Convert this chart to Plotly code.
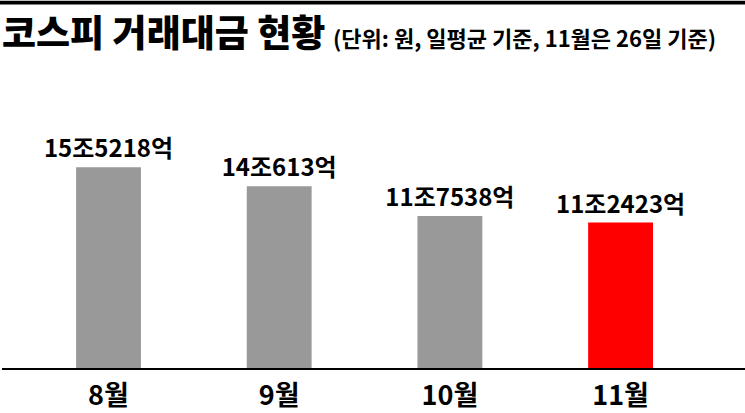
import plotly.graph_objects as go

# 코스피 일평균 거래대금 (단위: 억원)
months = ["8월", "9월", "10월", "11월"]
amounts = [155218, 140613, 117538, 112423]
bar_colors = ["#999999", "#999999", "#999999", "#ff0000"]

FONT = "Noto Sans CJK KR"

y_jo = [a / 10000 for a in amounts]
labels = [f"{a // 10000}조{a % 10000}억" for a in amounts]

fig = go.Figure()
fig.add_trace(go.Bar(
    x=months, y=y_jo,
    width=0.38,
    marker=dict(color=bar_colors, line=dict(width=0)),
    text=labels,
    textposition="outside",
    constraintext="none",
    textfont=dict(family=FONT, size=24, color="black", weight=700),
    cliponaxis=False,
    hoverinfo="skip",
))

# plot area: pixels 80..374 vertically
def py(pix):
    return (374 - pix) / 294

fig.add_annotation(
    text="코스피 거래대금 현황", xref="paper", yref="paper",
    x=-0.003, y=py(30), xanchor="left", yanchor="middle", showarrow=False,
    font=dict(family=FONT, size=37, color="black", weight=900),
)
fig.add_annotation(
    text="(단위: 원, 일평균 기준, 11월은 26일 기준)", xref="paper", yref="paper",
    x=(331 - 2) / 743, y=py(36), xanchor="left", yanchor="middle", showarrow=False,
    font=dict(family=FONT, size=22, color="black", weight=700),
)
# top black rule
fig.add_shape(type="rect", xref="paper", yref="paper",
              x0=-0.01, x1=1.01, y0=py(3), y1=py(-1),
              fillcolor="black", line=dict(width=0))

fig.update_layout(
    width=745, height=413,
    margin=dict(l=2, r=0, t=80, b=39),
    paper_bgcolor="white", plot_bgcolor="white",
    showlegend=False,
    font=dict(family=FONT),
    xaxis=dict(
        range=[-0.624, 3.729],
        showline=True, linecolor="black", linewidth=2,
        showgrid=False, zeroline=False,
        ticks="", ticklabelstandoff=3,
        tickfont=dict(family=FONT, size=27, color="black", weight=700),
    ),
    yaxis=dict(range=[0, 22.27], visible=False, showgrid=False, zeroline=False),
)

fig.write_html("out.html", config={"displayModeBar": False},
               post_script="document.body.style.margin='0';")
